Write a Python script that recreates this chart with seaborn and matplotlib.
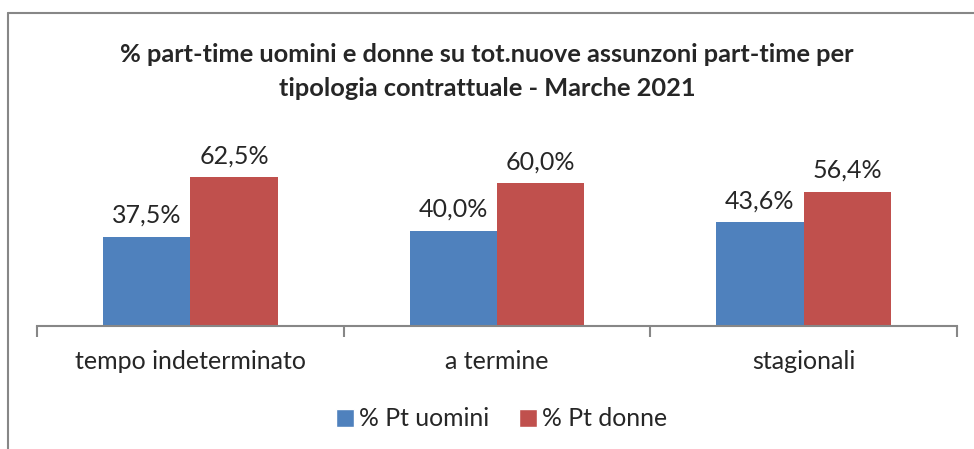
import pandas as pd
import matplotlib.pyplot as plt
import seaborn as sns
from matplotlib.lines import Line2D

# dati
categorie = ['tempo indeterminato', 'a termine', 'stagionali']
pt_uomini = [37.5, 40.0, 43.6]
pt_donne = [62.5, 60.0, 56.4]
serie = ['% Pt uomini', '% Pt donne']
colori = ['#4F81BD', '#C0504D']

df = pd.DataFrame({
    'tipologia': categorie * 2,
    'valore': pt_uomini + pt_donne,
    'serie': [serie[0]] * 3 + [serie[1]] * 3,
})

sns.set_style('white')
plt.rcParams['font.family'] = ['Lato', 'DejaVu Sans']

fig = plt.figure(figsize=(9.74, 4.49), dpi=100)
ax = fig.add_axes([37 / 974, 1 - 326 / 449, 920 / 974, 200 / 449])

sns.barplot(data=df, x='tipologia', y='valore', hue='serie',
            palette=colori, width=0.57, saturation=1, ax=ax,
            edgecolor='none', legend=False)

ax.set_xlim(-0.5, 2.5)
ax.set_ylim(0, 200 / 2.38)

# etichette valori
for cont in ax.containers:
    ax.bar_label(cont, labels=[f'{v:.1f}%'.replace('.', ',') for v in cont.datavalues],
                 padding=7, fontsize=18)

for s in ['top', 'right', 'left']:
    ax.spines[s].set_visible(False)
ax.spines['bottom'].set_color('#878787')
ax.spines['bottom'].set_linewidth(1.5)
ax.set_yticks([])
ax.set_xticks([-0.5, 0.5, 1.5, 2.5])
ax.set_xticklabels([])
ax.tick_params(axis='x', bottom=True, length=8, width=1.5, color='#878787', direction='out')
for i, c in enumerate(categorie):
    ax.text(i, -0.12, c, transform=ax.get_xaxis_transform(), ha='center', va='top', fontsize=18)
ax.set_xlabel('')
ax.set_ylabel('')

fig.suptitle('% part-time uomini e donne su tot.nuove assunzoni part-time per\n'
             'tipologia contrattuale - Marche 2021',
             fontsize=18.3, fontweight='bold', y=0.905, va='top', linespacing=1.6)

# legenda
handles = [Line2D([0], [0], marker='s', color='w', markerfacecolor=c, markersize=13, linestyle='')
           for c in colori]
fig.legend(handles, serie, loc='center', bbox_to_anchor=(500 / 974, 1 - 419 / 449),
           ncol=2, frameon=False, fontsize=17.8, handletextpad=0.05, columnspacing=1.1,
           handlelength=1.0)

# bordo
fig.add_artist(Line2D([8 / 974, 8 / 974], [0, 1 - 13 / 449], transform=fig.transFigure,
                      color='#878787', linewidth=1.5))
fig.add_artist(Line2D([8 / 974, 1], [1 - 13 / 449, 1 - 13 / 449], transform=fig.transFigure,
                      color='#878787', linewidth=1.5))

plt.savefig('out.png', dpi=100)
